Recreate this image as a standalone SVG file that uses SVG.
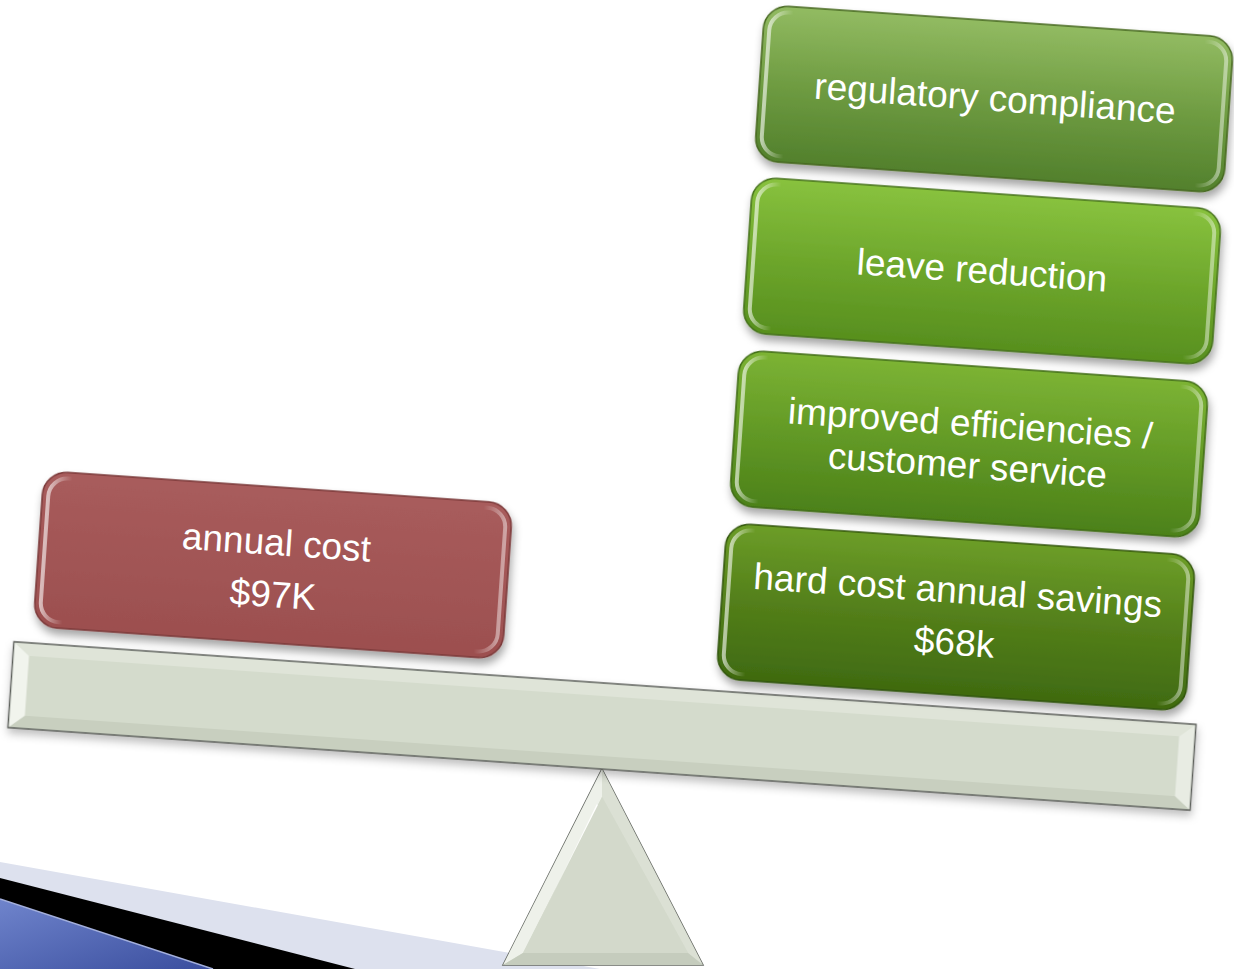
<svg xmlns="http://www.w3.org/2000/svg" width="1234" height="969" viewBox="0 0 1234 969">
<defs>
<style>
.lbl{font-family:"Liberation Sans",Arial,sans-serif;font-size:37px;fill:#ffffff;text-anchor:middle}
.rim{fill:none;stroke:url(#rimG);stroke-width:4}
</style>
<filter id="sh" x="-10%" y="-20%" width="120%" height="150%">
<feDropShadow dx="2" dy="6" stdDeviation="4" flood-color="#000" flood-opacity="0.35"/>
</filter>
<filter id="shL" x="-10%" y="-20%" width="120%" height="160%">
<feDropShadow dx="1" dy="5" stdDeviation="4" flood-color="#000" flood-opacity="0.25"/>
</filter>
<linearGradient id="rimG" x1="0" y1="0" x2="1" y2="0">
<stop offset="0" stop-color="#fff" stop-opacity="0.6"/>
<stop offset="0.05" stop-color="#fff" stop-opacity="0"/>
<stop offset="0.95" stop-color="#fff" stop-opacity="0"/>
<stop offset="1" stop-color="#fff" stop-opacity="0.45"/>
</linearGradient>
<linearGradient id="gRed" x1="0" y1="0" x2="0" y2="1">
<stop offset="0" stop-color="#a85c5c"/>
<stop offset="1" stop-color="#9c4f4f"/>
</linearGradient>
<linearGradient id="g1" x1="0" y1="0" x2="0" y2="1">
<stop offset="0" stop-color="#92bb62"/>
<stop offset="0.5" stop-color="#6f9c42"/>
<stop offset="1" stop-color="#52802c"/>
</linearGradient>
<linearGradient id="g2" x1="0" y1="0" x2="0" y2="1">
<stop offset="0" stop-color="#88c23e"/>
<stop offset="0.5" stop-color="#6ea72c"/>
<stop offset="1" stop-color="#578f1e"/>
</linearGradient>
<linearGradient id="g3" x1="0" y1="0" x2="0" y2="1">
<stop offset="0" stop-color="#7cb334"/>
<stop offset="0.5" stop-color="#639a26"/>
<stop offset="1" stop-color="#4c8119"/>
</linearGradient>
<linearGradient id="g4" x1="0" y1="0" x2="0" y2="1">
<stop offset="0" stop-color="#6c9d28"/>
<stop offset="0.5" stop-color="#537f1a"/>
<stop offset="1" stop-color="#3f6a10"/>
</linearGradient>
<linearGradient id="gBlue" x1="0" y1="0" x2="1" y2="1">
<stop offset="0" stop-color="#6f84cc"/>
<stop offset="1" stop-color="#3a4e9e"/>
</linearGradient>
</defs>

<g id="corner-decoration">
<polygon points="0,862 600,969 0,969" fill="#dde1ee"/>
<polygon points="0,878 355,969 0,969" fill="#000000"/>
<polygon points="0,899 213,969 0,969" fill="url(#gBlue)"/>
<line x1="0" y1="899" x2="213" y2="969" stroke="#a3afdc" stroke-width="1.5"/>
</g>

<g id="fulcrum">
<polygon points="602,769 703,965 503,965" fill="#d3dacb" stroke="#646862" stroke-width="1.5"/>
<polygon points="602,769 602,797 523,953 503,965" fill="#eef1ea"/>
<polygon points="602,769 703,965 688,953 602,797" fill="#dbe0d4"/>
<polygon points="503,965 703,965 688,953 523,953" fill="#c5ccbd"/>
<line x1="598" y1="805" x2="530" y2="945" stroke="#ffffff" stroke-width="3" stroke-opacity="0.9"/>
<polygon points="602,797 688,953 523,953" fill="#d3d9cb"/>
</g>

<g id="beam" transform="rotate(4 602 726)" filter="url(#shL)">
<rect x="9.5" y="683" width="1185" height="86" fill="#d4dbcc"/>
<polygon points="9.5,683 1194.5,683 1178.5,696 25.5,696" fill="#dfe4d8"/>
<polygon points="9.5,769 1194.5,769 1178.5,756 25.5,756" fill="#c8cfbf"/>
<polygon points="9.5,683 25.5,696 25.5,756 9.5,769" fill="#f1f4ed"/>
<polygon points="1194.5,683 1178.5,696 1178.5,756 1194.5,769" fill="#e8ece3"/>
<rect x="9.5" y="683" width="1185" height="86" fill="none" stroke="#5d605b" stroke-width="1.5"/>
</g>

<g id="annual-cost" transform="translate(273 565) rotate(4)">
<rect x="-235" y="-78" width="470" height="156" rx="24" fill="url(#gRed)" stroke="#7a3838" stroke-width="1.5" filter="url(#sh)"/>
<rect x="-229" y="-72" width="458" height="144" rx="19" class="rim"/>
<text class="lbl" x="2" y="-10">annual cost</text>
<text class="lbl" x="2" y="42">$97K</text>
</g>

<g id="regulatory-compliance" transform="translate(994 99) rotate(4)">
<rect x="-235" y="-78" width="470" height="156" rx="24" fill="url(#g1)" stroke="#44661e" stroke-width="1.5" filter="url(#sh)"/>
<rect x="-229" y="-72" width="458" height="144" rx="19" class="rim"/>
<text class="lbl" x="1" y="12">regulatory compliance</text>
</g>

<g id="leave-reduction" transform="translate(982 271) rotate(4)">
<rect x="-235" y="-78" width="470" height="156" rx="24" fill="url(#g2)" stroke="#44701a" stroke-width="1.5" filter="url(#sh)"/>
<rect x="-229" y="-72" width="458" height="144" rx="19" class="rim"/>
<text class="lbl" x="0" y="12">leave reduction</text>
</g>

<g id="improved-efficiencies" transform="translate(969 444) rotate(4)">
<rect x="-235" y="-78" width="470" height="156" rx="24" fill="url(#g3)" stroke="#3e6a14" stroke-width="1.5" filter="url(#sh)"/>
<rect x="-229" y="-72" width="458" height="144" rx="19" class="rim"/>
<text class="lbl" x="0" y="-8">improved efficiencies /</text>
<text class="lbl" x="0" y="34">customer service</text>
</g>

<g id="hard-cost-savings" transform="translate(956 617) rotate(4)">
<rect x="-235" y="-78" width="470" height="156" rx="24" fill="url(#g4)" stroke="#30540a" stroke-width="1.5" filter="url(#sh)"/>
<rect x="-229" y="-72" width="458" height="144" rx="19" class="rim"/>
<text class="lbl" x="0" y="-14">hard cost annual savings</text>
<text class="lbl" x="0" y="38">$68k</text>
</g>
</svg>
